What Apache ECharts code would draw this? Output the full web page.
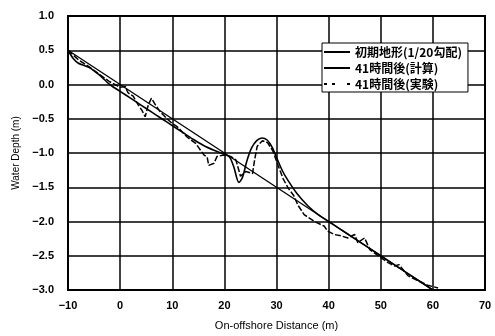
<!DOCTYPE html>
<html><head><meta charset="utf-8">
<script src="https://cdn.jsdelivr.net/npm/echarts@6/dist/echarts.min.js"></script>
<style>html,body{margin:0;padding:0;background:#fff}#c{width:495px;height:336px}</style>
</head><body><div id="c"></div>
<script>
var seriesNames = ['初期地形(1/20勾配)', '41時間後(計算)', '41時間後(実験)'];
var initX = [-10, 60];
var initY = [0.5, -3.0];
var calcX = [-10,-9,-8,-7,-6,-5,-4,-3,-2,0,2,4,6,8,10,12,14,16,18,20,21,21.8,22.8,23.5,24.3,25.2,26.2,27.2,28.2,29.2,30.2,31.2,32.2,34,36,38,40,42,45,50,55,60];
var calcY = [0.5,0.38,0.31,0.28,0.25,0.2,0.14,0.07,0.0,-0.1,-0.2,-0.3,-0.4,-0.5,-0.6,-0.7,-0.8,-0.89,-0.96,-1.02,-1.06,-1.2,-1.43,-1.35,-1.12,-0.93,-0.82,-0.78,-0.81,-0.92,-1.1,-1.27,-1.4,-1.6,-1.77,-1.9,-2.0,-2.1,-2.25,-2.5,-2.75,-3.0];
var expX = [-10,-8,-6,-4,-2,0,1,1.5,2.5,3.5,4.2,4.8,5.4,6,6.8,7.7,9,10,11,12.9,14.5,16.1,16.7,17,18,18.6,19.9,21.2,22.2,23.1,24.1,25.4,25.8,26.3,27.3,28.3,29.3,30.3,31.3,32.3,33.3,34.1,35.3,37.3,39.2,39.8,41.1,42.4,43.7,45,45.6,46.9,47.9,49.5,51.4,52.7,53.5,55.2,57,59,61];
var expY = [0.5,0.36,0.26,0.15,0.04,-0.04,-0.03,-0.12,-0.17,-0.3,-0.38,-0.47,-0.3,-0.2,-0.3,-0.4,-0.5,-0.57,-0.62,-0.77,-0.86,-1.03,-1.06,-1.18,-1.15,-1.05,-1.03,-1.05,-1.1,-1.34,-1.27,-1.3,-1.1,-0.9,-0.82,-0.85,-0.97,-1.18,-1.38,-1.52,-1.62,-1.76,-1.9,-2.0,-2.07,-2.14,-2.19,-2.21,-2.24,-2.19,-2.31,-2.24,-2.41,-2.5,-2.6,-2.65,-2.63,-2.79,-2.86,-2.93,-2.97];
var xTicks = {min: -10, max: 70, interval: 10};
var yTicks = {min: -3.0, max: 1.0, interval: 0.5};

function pairs(xs, ys){ return xs.map(function(x,i){ return [x, ys[i]]; }); }

var chart = echarts.init(document.getElementById('c'));
var axisLabelStyle = {color:'#000', fontFamily:'Liberation Sans, Arial, sans-serif', fontSize:11, fontWeight:'bold'};
var solidIcon = 'path://M0,0H26V2H0Z';
var dashIcon = 'path://M0,0H3V2H0Z M8,0H11V2H8Z M23,0H26V2H23Z';
chart.setOption({
  animation: false,
  backgroundColor: '#fff',
  grid: {left: 68, right: 10, top: 16, bottom: 43, show: true, borderColor: '#000', borderWidth: 2},
  legend: {
    orient: 'vertical', left: 322, top: 43,
    backgroundColor: '#fff', borderColor: '#000', borderWidth: 1,
    padding: [3, 6, 2, 2], itemGap: 4, itemWidth: 26, itemHeight: 2,
    textStyle: {color:'#000', fontFamily:'Noto Sans CJK JP', fontSize: 12, fontWeight: 'bold'},
    data: [
      {name: seriesNames[0], icon: solidIcon},
      {name: seriesNames[1], icon: solidIcon},
      {name: seriesNames[2], icon: dashIcon}
    ]
  },
  xAxis: {
    type: 'value', min: xTicks.min, max: xTicks.max, interval: xTicks.interval,
    name: 'On-offshore Distance (m)', nameLocation: 'middle', nameGap: 30,
    nameTextStyle: {color:'#000', fontFamily:'Liberation Sans, Arial, sans-serif', fontSize: 11},
    axisLine: {show: true, onZero: false, lineStyle: {color:'#000', width: 2}},
    axisTick: {show: false},
    axisLabel: Object.assign({margin: 10, formatter: function(v){ return String(v).replace('-', '−'); }}, axisLabelStyle),
    splitLine: {show: true, lineStyle: {color:'#000', width: 1.5}}
  },
  yAxis: {
    type: 'value', min: yTicks.min, max: yTicks.max, interval: yTicks.interval,
    name: 'Water Depth (m)', nameLocation: 'middle', nameGap: 42,
    nameTextStyle: {color:'#000', fontFamily:'Liberation Sans, Arial, sans-serif', fontSize: 10},
    axisLine: {show: true, onZero: false, lineStyle: {color:'#000', width: 2}},
    axisTick: {show: false},
    axisLabel: Object.assign({margin: 14, formatter: function(v){ return v.toFixed(1).replace('-', '−'); }}, axisLabelStyle),
    splitLine: {show: true, lineStyle: {color:'#000', width: 1.5}}
  },
  series: [
    {name: seriesNames[0], type: 'line', data: pairs(initX, initY), symbol: 'none', z: 3,
     lineStyle: {color:'#000', width: 1.3}, itemStyle: {color:'#000'}},
    {name: seriesNames[1], type: 'line', data: pairs(calcX, calcY), symbol: 'none', smooth: 0.3, z: 4,
     lineStyle: {color:'#000', width: 1.6}, itemStyle: {color:'#000'}},
    {name: seriesNames[2], type: 'line', data: pairs(expX, expY), symbol: 'none', z: 5,
     lineStyle: {color:'#000', width: 1.5, type: [6, 2]}, itemStyle: {color:'#000'}}
  ]
});
</script></body></html>
